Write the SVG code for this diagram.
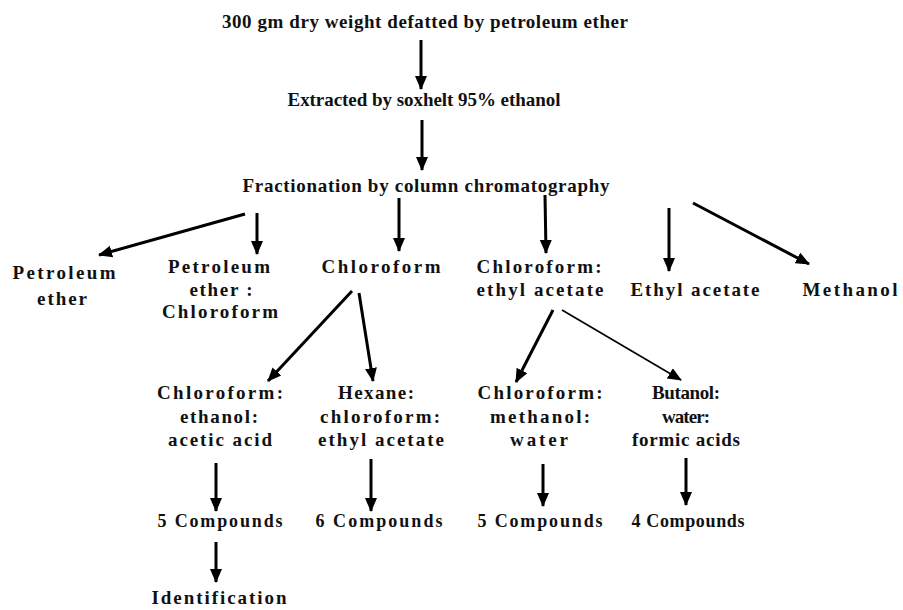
<svg xmlns="http://www.w3.org/2000/svg" width="903" height="610" viewBox="0 0 903 610">
<style>
text{font-family:'Liberation Serif','DejaVu Serif',serif;font-weight:700;font-size:19px;fill:#111;text-anchor:middle}
text.s{font-size:18px}
.c line{stroke:#000;stroke-width:3;marker-end:url(#ah)}
.c line.t{stroke-width:1.6}
</style>
<defs>
<marker id="ah" markerUnits="userSpaceOnUse" markerWidth="14" markerHeight="14" viewBox="0 0 14 14" refX="13" refY="7" orient="auto">
<path d="M0,1 L14,7 L0,13 Z" fill="#000"/>
</marker>
</defs>
<rect width="903" height="610" fill="#fff"/>
<g id="n-start"><text x="425" y="28" textLength="406" lengthAdjust="spacing">300 gm dry weight defatted by petroleum ether</text></g>
<g id="n-extract"><text x="424" y="106" textLength="273" lengthAdjust="spacing">Extracted by soxhelt 95% ethanol</text></g>
<g id="n-fraction"><text x="426" y="192" textLength="367" lengthAdjust="spacing">Fractionation by column chromatography</text></g>
<g id="n-pe"><text x="64" y="279" textLength="103" lengthAdjust="spacing">Petroleum</text><text x="62" y="305" textLength="50" lengthAdjust="spacing">ether</text></g>
<g id="n-pec"><text x="219" y="273" textLength="102" lengthAdjust="spacing">Petroleum</text><text x="221" y="296" textLength="63" lengthAdjust="spacing">ether :</text><text x="220" y="318" textLength="116" lengthAdjust="spacing">Chloroform</text></g>
<g id="n-chl"><text x="381" y="273" textLength="119" lengthAdjust="spacing">Chloroform</text></g>
<g id="n-chlea"><text x="539" y="273" textLength="125" lengthAdjust="spacing">Chloroform:</text><text x="540" y="296" textLength="127" lengthAdjust="spacing">ethyl acetate</text></g>
<g id="n-ea"><text x="695" y="296" textLength="129" lengthAdjust="spacing">Ethyl acetate</text></g>
<g id="n-meth"><text x="850" y="296" textLength="95" lengthAdjust="spacing">Methanol</text></g>
<g id="n-cea"><text x="220" y="399" textLength="126" lengthAdjust="spacing">Chloroform:</text><text x="219" y="423" textLength="78" lengthAdjust="spacing">ethanol:</text><text x="220" y="446" textLength="104" lengthAdjust="spacing">acetic acid</text></g>
<g id="n-hex"><text x="376" y="399" textLength="76" lengthAdjust="spacing">Hexane:</text><text x="380" y="423" textLength="120" lengthAdjust="spacing">chloroform:</text><text x="381" y="446" textLength="126" lengthAdjust="spacing">ethyl acetate</text></g>
<g id="n-cmw"><text x="540" y="399" textLength="125" lengthAdjust="spacing">Chloroform:</text><text x="540" y="423" textLength="100" lengthAdjust="spacing">methanol:</text><text x="539" y="446" textLength="58" lengthAdjust="spacing">water</text></g>
<g id="n-bwf"><text x="686" y="399" textLength="68" lengthAdjust="spacing">Butanol:</text><text x="686" y="423" textLength="48" lengthAdjust="spacing">water:</text><text x="686" y="446" textLength="108" lengthAdjust="spacing">formic acids</text></g>
<g id="n-c1"><text class="s" x="220" y="527" textLength="125" lengthAdjust="spacing">5 Compounds</text></g>
<g id="n-c2"><text class="s" x="379" y="527" textLength="127" lengthAdjust="spacing">6 Compounds</text></g>
<g id="n-c3"><text class="s" x="540" y="527" textLength="125" lengthAdjust="spacing">5 Compounds</text></g>
<g id="n-c4"><text class="s" x="688" y="527" textLength="113" lengthAdjust="spacing">4 Compounds</text></g>
<g id="n-ident"><text x="219" y="604" textLength="135" lengthAdjust="spacing">Identification</text></g>
<g id="connectors" class="c">
<line x1="421" y1="40" x2="421" y2="89"/>
<line x1="422" y1="120" x2="422" y2="170"/>
<line x1="245" y1="214" x2="99" y2="255"/>
<line x1="257" y1="213" x2="257" y2="254"/>
<line x1="399" y1="198" x2="399" y2="251"/>
<line x1="545" y1="195" x2="546" y2="253"/>
<line x1="669" y1="208" x2="669" y2="271"/>
<line x1="693" y1="203" x2="809" y2="264"/>
<line x1="352" y1="291" x2="268" y2="381"/>
<line x1="359" y1="293" x2="373" y2="381"/>
<line x1="553" y1="310" x2="516" y2="382"/>
<line class="t" x1="562" y1="310" x2="681" y2="380"/>
<line x1="216" y1="463" x2="216" y2="511"/>
<line x1="371" y1="459" x2="371" y2="511"/>
<line x1="543" y1="464" x2="543" y2="506"/>
<line x1="686" y1="458" x2="686" y2="505"/>
<line x1="216" y1="542" x2="216" y2="582"/>
</g>
</svg>
